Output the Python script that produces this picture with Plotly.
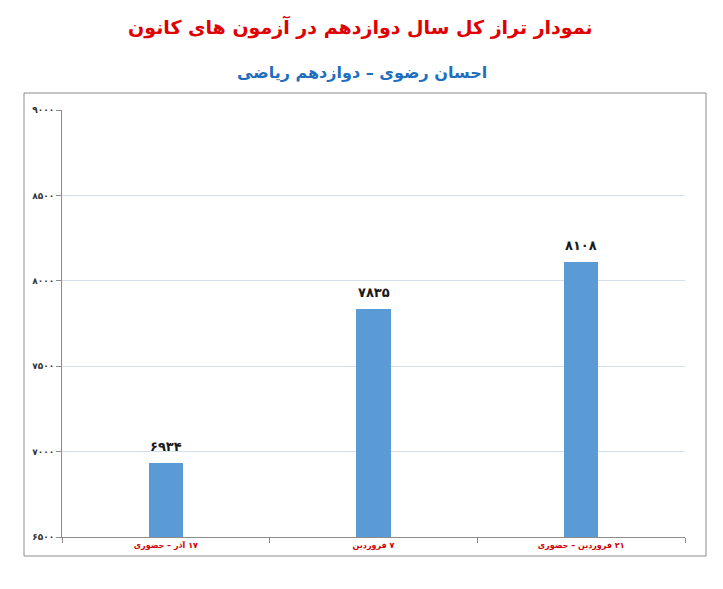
import plotly.graph_objects as go

categories = ["۱۷ آذر – حضوری", "۷ فروردین", "۲۱ فروردین – حضوری"]
values = [6934, 7835, 8108]
tick_values = [6500, 7000, 7500, 8000, 8500, 9000]

fa_digits = str.maketrans("0123456789", "۰۱۲۳۴۵۶۷۸۹")
def fa(n):
    return str(n).translate(fa_digits)

RLM = "\u200f"
value_labels = [fa(v) for v in values]
tick_labels = [fa(v) for v in tick_values]
cat_labels = [RLM + c for c in categories]

fig = go.Figure()
fig.add_trace(go.Bar(
    x=cat_labels, y=values,
    marker=dict(color="#5B9BD5", line=dict(width=0)),
    width=0.165,
    hoverinfo="skip",
))

for c, v, t in zip(cat_labels, values, value_labels):
    fig.add_annotation(
        x=c, y=v, text=t, showarrow=False,
        xanchor="center", yanchor="bottom", yshift=7,
        font=dict(family="DejaVu Sans", size=13, color="#1a1a1a", weight="bold"),
    )

W, H = 723, 589
L, R, T, B = 62, 38, 110, 52
pw, ph = W - L - R, H - T - B

def px(x):
    return (x - L) / pw
def py(y):
    return (H - B - y) / ph

fig.update_layout(
    width=W, height=H,
    margin=dict(l=L, r=R, t=T, b=B),
    paper_bgcolor="white", plot_bgcolor="white",
    showlegend=False,
    bargap=0.0,
    xaxis=dict(
        showline=True, linecolor="#8C8C8C", linewidth=1,
        ticks="outside", ticklen=5, tickcolor="#8C8C8C",
        tickson="boundaries", showgrid=False,
        tickfont=dict(family="DejaVu Sans", size=8, color="#D00000", weight="bold"),
    ),
    yaxis=dict(
        range=[6500, 9000],
        tickvals=tick_values, ticktext=tick_labels,
        showline=True, linecolor="#8C8C8C", linewidth=1,
        ticks="outside", ticklen=5, tickcolor="#8C8C8C",
        showgrid=True, gridcolor="#D6E0EC", gridwidth=1,
        zeroline=False,
        tickfont=dict(family="DejaVu Sans", size=9, color="#333333", weight="bold"),
    ),
    shapes=[dict(
        type="rect", xref="paper", yref="paper",
        x0=px(24), x1=px(706), y0=py(556), y1=py(93),
        line=dict(color="#8C8C8C", width=1), fillcolor="rgba(0,0,0,0)",
        layer="below",
    )],
)
fig.add_annotation(
    text="<b>نمودار تراز کل سال دوازدهم در آزمون های کانون</b>",
    xref="paper", yref="paper", x=px(360), y=py(27),
    showarrow=False, xanchor="center", yanchor="middle",
    font=dict(family="DejaVu Sans", size=19, color="#E00000"),
)
fig.add_annotation(
    text="<b>احسان رضوی – دوازدهم ریاضی</b>",
    xref="paper", yref="paper", x=px(362), y=py(73),
    showarrow=False, xanchor="center", yanchor="middle",
    font=dict(family="DejaVu Sans", size=16, color="#1F6EBF"),
)

fig.write_html("out.html", config={"displayModeBar": False},
               post_script="document.body.style.margin='0';")
